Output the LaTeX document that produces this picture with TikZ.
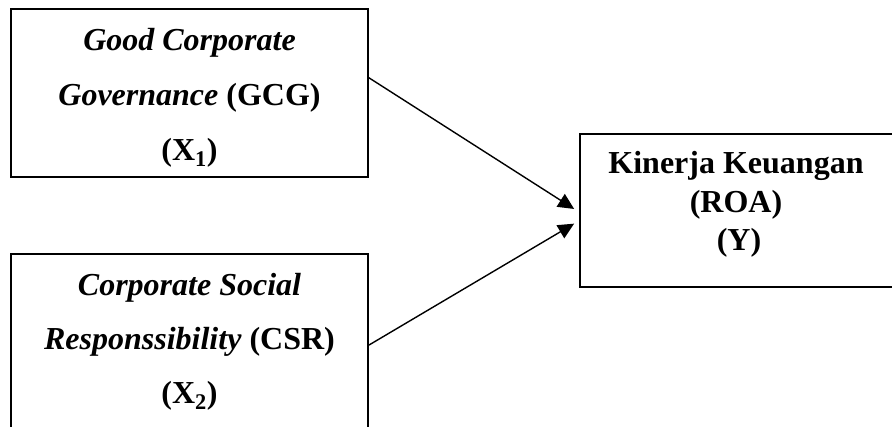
\documentclass[tikz,border=0pt]{standalone}
\usepackage{fontspec}
\setmainfont{Liberation Serif}
\usetikzlibrary{arrows.meta,calc}
\begin{document}
\begin{tikzpicture}[x=1pt,y=-1pt,
  box/.style={draw, line width=1.7pt, rectangle, inner sep=0pt},
  txt/.style={anchor=base, inner sep=0pt, font=\fontsize{32}{36}\selectfont\bfseries},
  arr/.style={line width=1.4pt, -{Triangle[length=16pt,width=15pt]}}]
\useasboundingbox (0,0) rectangle (892,426);
\begin{scope}
\clip (0,0) rectangle (892,426);
% boxes
\node[box, minimum width=357pt, minimum height=168pt] (b1) at (189.5,93) {};
\node[box, minimum width=357pt, minimum height=186pt] (b2) at (189.5,347) {};
\node[box, minimum width=320pt, minimum height=153pt] (y) at (740,210.5) {};
% texts
\node[txt] (t1a) at (189.5,50) {\textit{Good Corporate}};
\node[txt] (t1b) at (189.5,105) {\textit{Governance} (GCG)};
\node[txt] (t1c) at (189.5,160) {(X\textsubscript{1})};
\node[txt] (t2a) at (189.5,295) {\textit{Corporate Social}};
\node[txt] (t2b) at (189.5,349) {\textit{Responssibility} (CSR)};
\node[txt] (t2c) at (189.5,403) {(X\textsubscript{2})};
\node[txt] (t3a) at (736,173) {Kinerja Keuangan};
\node[txt] (t3b) at (736,212) {(ROA)};
\node[txt] (t3c) at (739,250) {(Y)};
% connectors
\coordinate (s1) at ($(b1.north east)!0.41!(b1.south east)$);
\coordinate (s2) at ($(b2.north east)!0.49!(b2.south east)$);
\coordinate (e1) at ($(y.north west)!0.49!(y.south west)+(-5,0)$);
\coordinate (e2) at ($(y.north west)!0.585!(y.south west)+(-5,0)$);
\draw[arr] (s1) -- (e1);
\draw[arr] (s2) -- (e2);
\end{scope}
\end{tikzpicture}
\end{document}
